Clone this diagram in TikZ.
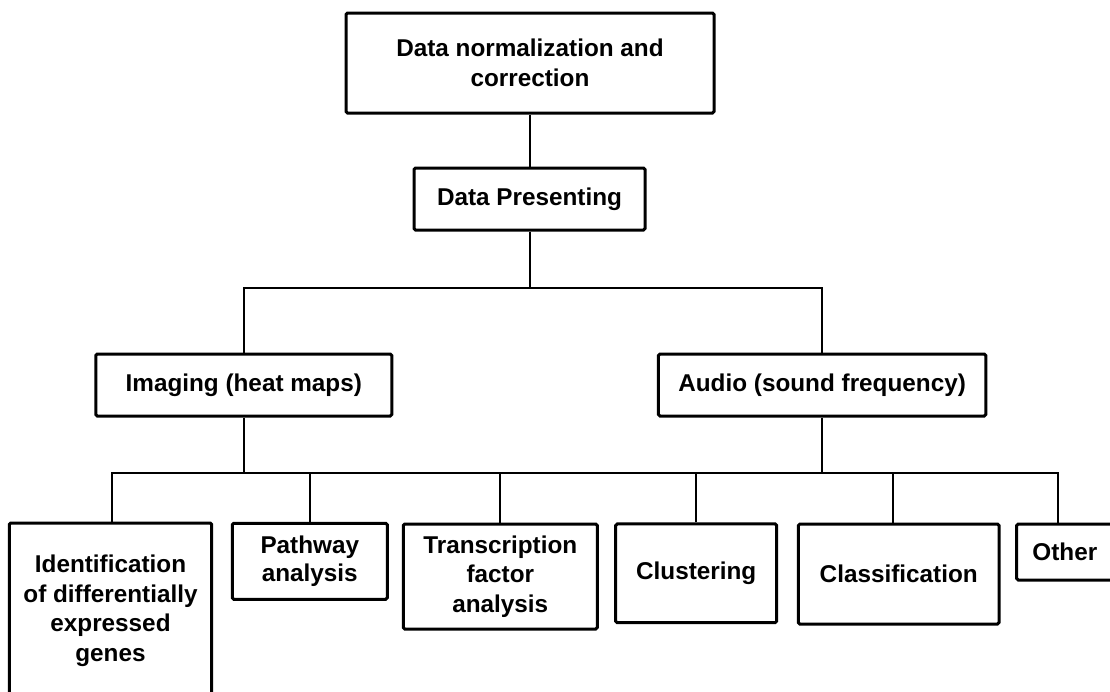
\documentclass[tikz,border=0pt]{standalone}
\usepackage{fontspec}
\setmainfont{Liberation Sans}
\begin{document}
\begin{tikzpicture}[x=1pt,y=-1pt,
  box/.style={draw=black, line width=3pt, rounded corners=1.5pt, fill=white, inner sep=0pt,
    align=center, font=\fontsize{24.3}{29.5}\selectfont\bfseries},
  conn/.style={draw=black, line width=2pt}]
\clip (0,0) rectangle (1110,691);
\fill[white] (0,0) rectangle (1110,691);
% nodes
\node[box, minimum width=368pt, minimum height=100pt] (top) at (530,63) {Data normalization and\\correction};
\node[box, minimum width=231pt, minimum height=62pt] (dp) at (529.5,199) {Data Presenting};
\node[box, minimum width=296pt, minimum height=62pt] (img) at (243.8,385) {Imaging (heat maps)};
\node[box, minimum width=327.4pt, minimum height=62pt] (aud) at (822.1,385) {Audio (sound frequency)};
\node[box, minimum width=202.4pt, minimum height=176pt] (ident) at (110.5,611) {Identification\\of differentially\\expressed\\genes};
\node[box, minimum width=155pt, minimum height=76pt, font=\fontsize{24.3}{28}\selectfont\bfseries] (path) at (309.8,561.3) {Pathway\\analysis};
\node[box, minimum width=194pt, minimum height=105pt] (trans) at (500.3,576.5) {Transcription\\factor\\analysis};
\node[box, minimum width=161pt, minimum height=98.7pt] (clu) at (696.2,573.3) {Clustering};
\node[box, minimum width=200.7pt, minimum height=100pt] (cls) at (898.7,574) {Classification};
\node[box, minimum width=96.3pt, minimum height=56pt] (oth) at (1064.8,552) {Other};
% junction coordinates
\coordinate (j0) at (530,288);
\coordinate (bL) at (111.7,473);
\coordinate (bR) at (1058.3,473);
\coordinate (cx) at (892.5,473);
% connectors
\draw[conn] (top.south -| j0) -- (dp.north -| j0);
\draw[conn] (dp.south -| j0) -- (j0);
\draw[conn] (img.north) |- (j0) -| (aud.north);
\draw[conn] (img.south) -- (img.south |- bL);
\draw[conn] (aud.south) -- (aud.south |- bL);
\draw[conn] (ident.north -| bL) -- (bL) -- (bR) -- (oth.north -| bR);
\draw[conn] (path.north) -- (path.north |- bL);
\draw[conn] (trans.north) -- (trans.north |- bL);
\draw[conn] (clu.north) -- (clu.north |- bL);
\draw[conn] (cx) -- (cls.north -| cx);
\end{tikzpicture}
\end{document}
